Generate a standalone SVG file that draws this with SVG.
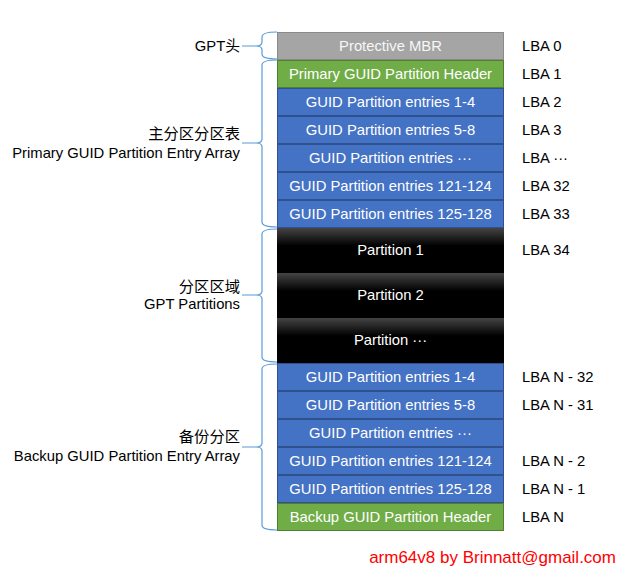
<svg xmlns="http://www.w3.org/2000/svg" width="628" height="578" viewBox="0 0 628 578">
<style>
text{font-family:"Liberation Sans","Noto Sans CJK SC",sans-serif;font-size:14.8px}
.w{fill:#ffffff;text-anchor:middle}
.gy{fill:#f7f7f7;text-anchor:middle}
.l{fill:#000000}
.lb{fill:#000000;text-anchor:end}
.cn{font-size:15.3px}
.blue{fill:#4472c4;stroke:#2f528f;stroke-width:1}
.green{fill:#70ad47;stroke:#507e32;stroke-width:1}
.gray{fill:#a5a5a5;stroke:#8a8a8a;stroke-width:1}
.part{fill:url(#pg)}
.br{fill:none;stroke:#5b9bd5;stroke-width:1.2}
.foot{fill:#ff0000;font-size:17px;text-anchor:end}
</style>
<defs>
<linearGradient id="pg" x1="0" y1="0" x2="0" y2="1">
<stop offset="0" stop-color="#444444"/>
<stop offset="0.4" stop-color="#000000"/>
<stop offset="1" stop-color="#000000"/>
</linearGradient>
</defs>
<rect width="628" height="578" fill="#ffffff"/>
<g id="connectors">
<path class="br" d="M277,32 Q262,32 262,37 L262,42 Q262,46 256,46 Q262,46 262,50 L262,54 Q262,59 277,59 M242,46 L256,46"/>
<path class="br" d="M277,60 Q262,60 262,65 L262,139 Q262,143 256,143 Q262,143 262,147 L262,222 Q262,227 277,227 M242,143 L256,143"/>
<path class="br" d="M277,229 Q262,229 262,234 L262,291 Q262,295 256,295 Q262,295 262,299 L262,357 Q262,362 277,362 M242,295 L256,295"/>
<path class="br" d="M277,364 Q262,364 262,369 L262,443 Q262,447 256,447 Q262,447 262,451 L262,525 Q262,530 277,530 M242,447 L256,447"/>
</g>
<g id="n-mbr"><rect class="gray" x="277.5" y="32.5" width="226" height="27"/><text class="gy" x="390.5" y="51">Protective MBR</text><text class="l" x="522" y="51">LBA 0</text></g>
<g id="n-phdr"><rect class="green" x="277.5" y="60.5" width="226" height="27"/><text class="w" x="390.5" y="79">Primary GUID Partition Header</text><text class="l" x="522" y="79">LBA 1</text></g>
<g id="n-p1"><rect class="blue" x="277.5" y="88.5" width="226" height="27"/><text class="w" x="390.5" y="107">GUID Partition entries 1-4</text><text class="l" x="522" y="107">LBA 2</text></g>
<g id="n-p2"><rect class="blue" x="277.5" y="116.5" width="226" height="27"/><text class="w" x="390.5" y="135">GUID Partition entries 5-8</text><text class="l" x="522" y="135">LBA 3</text></g>
<g id="n-p3"><rect class="blue" x="277.5" y="144.5" width="226" height="27"/><text class="w" x="390.5" y="163">GUID Partition entries ···</text><text class="l" x="522" y="163">LBA ···</text></g>
<g id="n-p4"><rect class="blue" x="277.5" y="172.5" width="226" height="27"/><text class="w" x="390.5" y="191">GUID Partition entries 121-124</text><text class="l" x="522" y="191">LBA 32</text></g>
<g id="n-p5"><rect class="blue" x="277.5" y="200.5" width="226" height="27"/><text class="w" x="390.5" y="219">GUID Partition entries 125-128</text><text class="l" x="522" y="219">LBA 33</text></g>
<g id="n-part1"><rect class="part" x="277" y="228" width="227" height="45"/><text class="w" x="390.5" y="255">Partition 1</text><text class="l" x="522" y="255">LBA 34</text></g>
<g id="n-part2"><rect class="part" x="277" y="273" width="227" height="45"/><text class="w" x="390.5" y="300">Partition 2</text></g>
<g id="n-part3"><rect class="part" x="277" y="318" width="227" height="45"/><text class="w" x="390.5" y="345">Partition ···</text></g>
<g id="n-b1"><rect class="blue" x="277.5" y="363.5" width="226" height="27"/><text class="w" x="390.5" y="382">GUID Partition entries 1-4</text><text class="l" x="522" y="382">LBA N - 32</text></g>
<g id="n-b2"><rect class="blue" x="277.5" y="391.5" width="226" height="27"/><text class="w" x="390.5" y="410">GUID Partition entries 5-8</text><text class="l" x="522" y="410">LBA N - 31</text></g>
<g id="n-b3"><rect class="blue" x="277.5" y="419.5" width="226" height="27"/><text class="w" x="390.5" y="438">GUID Partition entries ···</text></g>
<g id="n-b4"><rect class="blue" x="277.5" y="447.5" width="226" height="27"/><text class="w" x="390.5" y="466">GUID Partition entries 121-124</text><text class="l" x="522" y="466">LBA N - 2</text></g>
<g id="n-b5"><rect class="blue" x="277.5" y="475.5" width="226" height="27"/><text class="w" x="390.5" y="494">GUID Partition entries 125-128</text><text class="l" x="522" y="494">LBA N - 1</text></g>
<g id="n-bhdr"><rect class="green" x="277.5" y="503.5" width="226" height="27"/><text class="w" x="390.5" y="522">Backup GUID Partition Header</text><text class="l" x="522" y="522">LBA N</text></g>
<g id="labels">
<text class="lb" x="240" y="51">GPT头</text>
<text class="lb cn" x="240" y="138.5">主分区分区表</text>
<text class="lb" x="240" y="158">Primary GUID Partition Entry Array</text>
<text class="lb cn" x="240" y="291.5">分区区域</text>
<text class="lb" x="240" y="309">GPT Partitions</text>
<text class="lb cn" x="240" y="442">备份分区</text>
<text class="lb" x="240" y="461">Backup GUID Partition Entry Array</text>
</g>
<text class="foot" x="616" y="563">arm64v8 by Brinnatt@gmail.com</text>
</svg>
